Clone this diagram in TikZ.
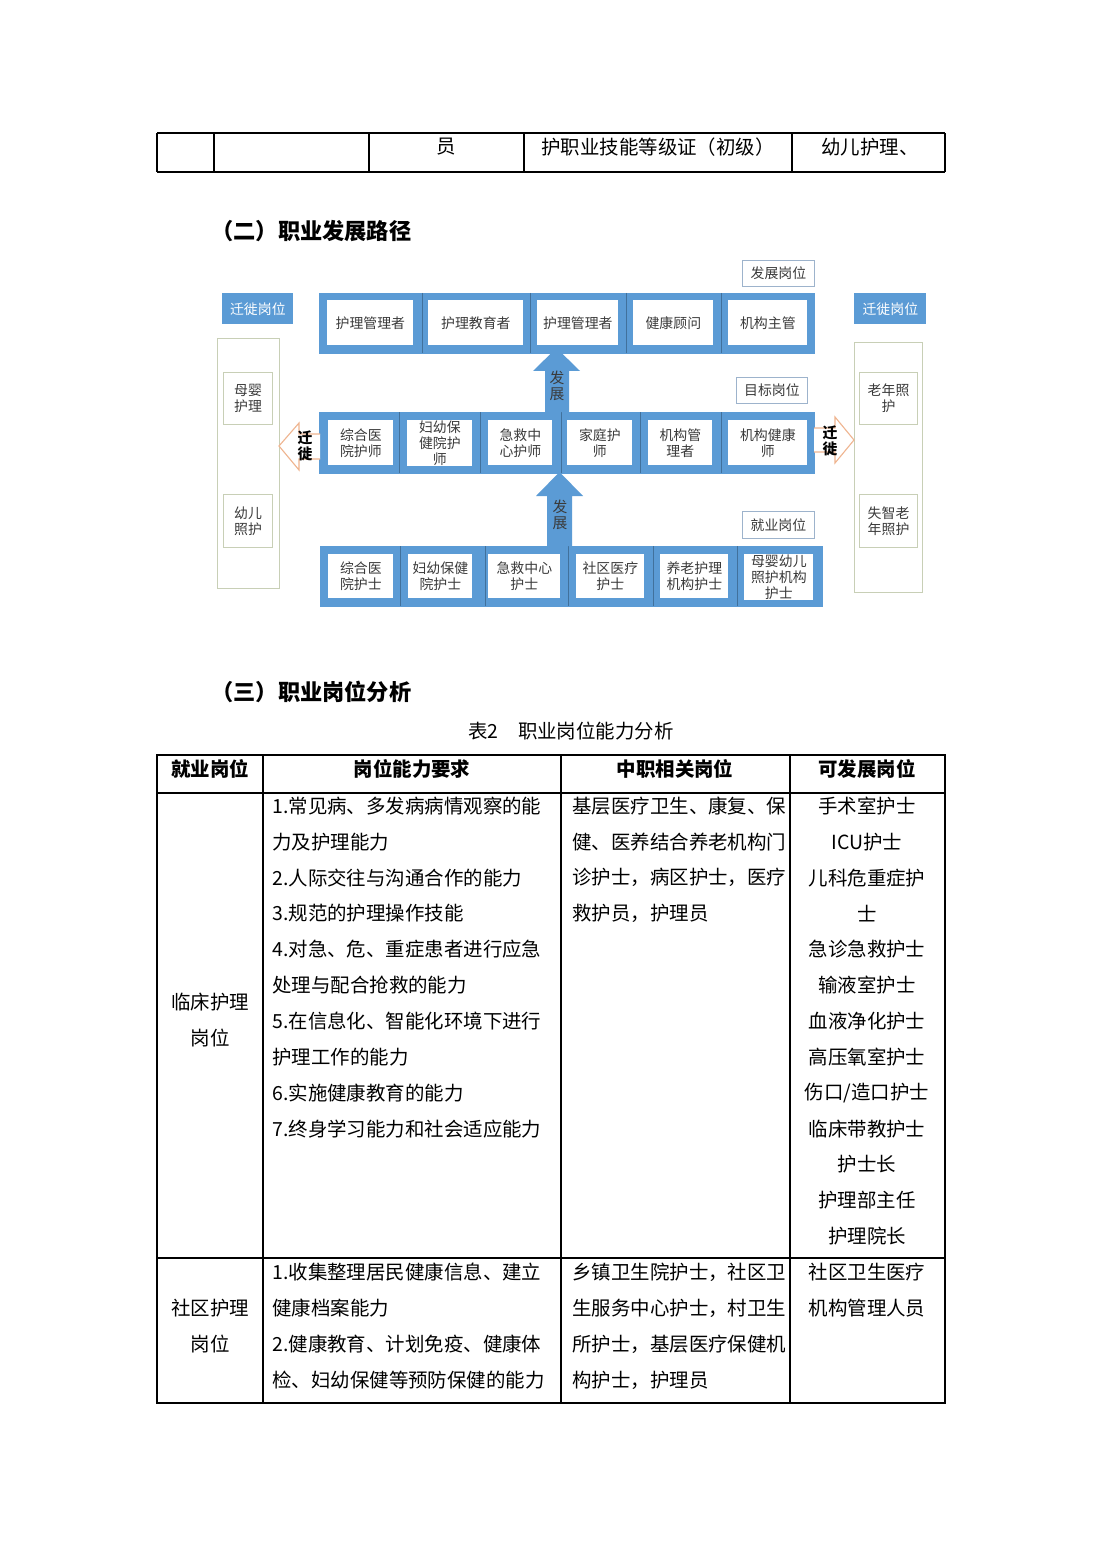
\documentclass[tikz,border=0pt]{standalone}
\usepackage{fontspec}
\setmainfont{Noto Sans CJK SC}
\usepackage{xcolor}
\usepackage{tikz}
\usetikzlibrary{positioning,calc}
\definecolor{bandblue}{HTML}{5B9BD5}
\definecolor{sepblue}{HTML}{41719C}
\definecolor{tagline}{HTML}{9DB3CC}
\definecolor{sideline}{HTML}{C8CFB6}
\definecolor{peach}{HTML}{EFB590}
\definecolor{txtgray}{HTML}{3A3A3A}
\newcommand\tabfont{\fontsize{10.5}{12}\selectfont}
\newcommand\headfont{\fontsize{12}{14}\selectfont\bfseries}
\newcommand\dgmfont{\fontsize{7.5}{8.8}\selectfont}

\tikzset{
  pbox/.style 2 args={minimum width=#1*0.54pt, minimum height=#2*0.54pt},
  band/.style={fill=bandblue, draw=bandblue, inner sep=0, anchor=north west},
  cell/.style={fill=white, inner sep=0, anchor=north west, font=\dgmfont, text=txtgray, align=center},
  tag/.style={draw=tagline, line width=0.5pt, fill=white, inner sep=0, anchor=north west, font=\dgmfont, text=txtgray},
  movetag/.style={fill=bandblue, inner sep=0, anchor=north west, font=\dgmfont, text=white},
  side/.style={draw=sideline, line width=0.6pt, fill=white, inner sep=0, anchor=north west, align=center, font=\dgmfont, text=txtgray},
  sep/.style={draw=sepblue, line width=0.5pt},
  rise/.style={fill=bandblue},
  risetxt/.style={font=\fontsize{8}{8.6}\selectfont, text=txtgray, align=center, inner sep=0},
  move/.style={draw=peach, fill=white, line width=0.6pt},
  movetxt/.style={font=\fontsize{8}{8.6}\selectfont\bfseries, align=center, inner sep=0},
  tabtxt/.style={font=\tabfont, inner sep=0},
  rule/.style={line width=0.7pt}
}

\begin{document}
\begin{tikzpicture}[x=0.54pt, y=-0.54pt]
  \useasboundingbox (0,0) rectangle (1103,1559);
  \fill[white] (0,0) rectangle (1103,1559);

  % tail of table 1
  \draw[rule] (157,133) -- (945,133);
  \draw[rule] (157,172) -- (945,172);
  \foreach \xpos in {157, 214, 369, 524, 792, 945} {
    \draw[rule] (\xpos,133) -- (\xpos,172);
  }
  \node[tabtxt] (t1a) at (446,147) {员};
  \node[tabtxt, anchor=west] (t1b) at (541,147) {护职业技能等级证（初级）};
  \node[tabtxt, anchor=west] (t1c) at (821,147) {幼儿护理、};

  \node[font=\headfont, anchor=west, inner sep=0] (sec2) at (211,231) {（二）职业发展路径};

  % bands
  \node[band, pbox={495}{60}] (topband) at (319,293) {};
  \node[band, pbox={495}{61}] (midband) at (319,412) {};
  \node[band, pbox={502}{60}] (lowband) at (320,546) {};

  % separators
  \foreach \xpos in {422, 530, 626, 721} {
    \draw[sep] (\xpos,293) -- (\xpos,353);
  }
  \foreach \xpos in {399, 480, 561, 640, 721} {
    \draw[sep] (\xpos,412) -- (\xpos,473);
  }
  \foreach \xpos in {400, 485, 568, 653, 737} {
    \draw[sep] (\xpos,546) -- (\xpos,606);
  }

  % development posts
  \foreach \xpos/\w/\t [count=\i] in {327/86/护理管理者, 428/95/护理教育者, 537/81/护理管理者, 633/80/健康顾问, 728/79/机构主管} {
    \node[cell, pbox={\w}{45}] (dev\i) at (\xpos,300) {\t};
  }
  % target posts
  \foreach \xpos/\w/\t [count=\i] in {328/65/{综合医\\院护师}, 407/65/{妇幼保\\健院护\\师}, 488/64/{急救中\\心护师}, 567/65/{家庭护\\师}, 648/64/{机构管\\理者}, 728/79/{机构健康\\师}} {
    \node[cell, pbox={\w}{45}] (tgt\i) at (\xpos,420) {\t};
  }
  % entry posts
  \foreach \xpos/\w/\t [count=\i] in {328/65/{综合医\\院护士}, 408/64/{妇幼保健\\院护士}, 488/72/{急救中心\\护士}, 576/68/{社区医疗\\护士}, 660/68/{养老护理\\机构护士}, 744/69/{母婴幼儿\\照护机构\\护士}} {
    \node[cell, pbox={\w}{44}] (job\i) at (\xpos,554) {\t};
  }

  % tags
  \node[tag, pbox={72}{26}] (devtag) at (742,260) {发展岗位};
  \node[tag, pbox={71}{26}] (tgttag) at (736,377) {目标岗位};
  \node[tag, pbox={72}{27}] (jobtag) at (742,511) {就业岗位};
  \node[movetag, pbox={71}{31}] (movetagL) at (222,293) {迁徙岗位};
  \node[movetag, pbox={72}{31}] (movetagR) at (854,293) {迁徙岗位};

  % side columns
  \node[side, pbox={62}{250}] (sideL) at (217,338) {};
  \node[side, pbox={68}{250}] (sideR) at (854,342) {};
  \node[side, pbox={49}{52}] (sideL1) at (223,372) {母婴\\护理};
  \node[side, pbox={49}{53}] (sideL2) at (223,494) {幼儿\\照护};
  \node[side, pbox={58}{52}] (sideR1) at (859,372) {老年照\\护};
  \node[side, pbox={58}{53}] (sideR2) at (859,494) {失智老\\年照护};

  % rise arrows
  \fill[rise] (545,412) -- (545,371) -- (533,371) -- (556.5,348) -- (580,371) -- (569,371) -- (569,412) -- cycle;
  \fill[rise] (547,546) -- (547,496) -- (536,496) -- (559.5,472) -- (583,496) -- (572,496) -- (572,546) -- cycle;
  \node[risetxt] (rise1) at (557,386) {发\\展};
  \node[risetxt] (rise2) at (560,515) {发\\展};

  % move arrows
  \draw[move] (320,434) -- (299,434) -- (299,423) -- (279,446) -- (299,470) -- (299,459) -- (320,459);
  \draw[move] (814,428) -- (835,428) -- (835,417) -- (854,440) -- (835,463) -- (835,452) -- (814,452);
  \node[movetxt] (moveL) at (305,446) {迁\\徙};
  \node[movetxt] (moveR) at (830,441) {迁\\徙};

  \node[font=\headfont, anchor=west, inner sep=0] (sec3) at (211,692) {（三）职业岗位分析};
  \node[tabtxt] (cap2) at (571,731) {表2\quad 职业岗位能力分析};

  % table 2
  \draw[rule] (157,755) rectangle (945,1403);
  \draw[rule] (157,793) -- (945,793);
  \draw[rule] (157,1258) -- (945,1258);
  \foreach \xpos in {263, 561, 790} {
    \draw[rule] (\xpos,755) -- (\xpos,1403);
  }
  \foreach \xpos/\t [count=\i] in {210/就业岗位, 412/岗位能力要求, 675/中职相关岗位, 867/可发展岗位} {
    \node[tabtxt, font=\tabfont\bfseries] (head\i) at (\xpos,769) {\t};
  }

  \node[tabtxt, align=center, font=\fontsize{10.5}{19.4}\selectfont] (post1) at (210,1020) {临床护理\\岗位};
  \foreach \t [count=\i from 0] in {1.常见病、多发病病情观察的能, 力及护理能力, 2.人际交往与沟通合作的能力, 3.规范的护理操作技能, 4.对急、危、重症患者进行应急, 处理与配合抢救的能力, 5.在信息化、智能化环境下进行, 护理工作的能力, 6.实施健康教育的能力, 7.终身学习能力和社会适应能力} {
    \node[tabtxt, anchor=west] (req\i) at (272,{806+35.85*\i}) {\t};
  }
  \foreach \t [count=\i from 0] in {基层医疗卫生、康复、保, 健、医养结合养老机构门, 诊护士，病区护士，医疗, 救护员，护理员} {
    \node[tabtxt, anchor=west] (rel\i) at (572,{806+35.85*\i}) {\t};
  }
  \foreach \t [count=\i from 0] in {手术室护士, ICU护士, 儿科危重症护, 士, 急诊急救护士, 输液室护士, 血液净化护士, 高压氧室护士, {伤口/造口护士}, 临床带教护士, 护士长, 护理部主任, 护理院长} {
    \node[tabtxt] (up\i) at (867,{806+35.85*\i}) {\t};
  }

  \node[tabtxt, align=center, font=\fontsize{10.5}{19.4}\selectfont] (post2) at (210,1326) {社区护理\\岗位};
  \foreach \t [count=\i from 0] in {1.收集整理居民健康信息、建立, 健康档案能力, 2.健康教育、计划免疫、健康体, 检、妇幼保健等预防保健的能力} {
    \node[tabtxt, anchor=west] (creq\i) at (272,{1272+36*\i}) {\t};
  }
  \foreach \t [count=\i from 0] in {乡镇卫生院护士，社区卫, 生服务中心护士，村卫生, 所护士，基层医疗保健机, 构护士，护理员} {
    \node[tabtxt, anchor=west] (crel\i) at (572,{1272+36*\i}) {\t};
  }
  \foreach \t [count=\i from 0] in {社区卫生医疗, 机构管理人员} {
    \node[tabtxt] (cup\i) at (867,{1272+36*\i}) {\t};
  }
\end{tikzpicture}
\end{document}
